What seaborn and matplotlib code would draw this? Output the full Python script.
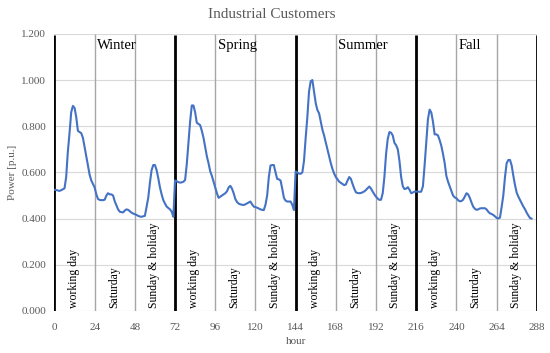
import numpy as np
import pandas as pd
import matplotlib
matplotlib.use("Agg")
import matplotlib.pyplot as plt
import seaborn as sns

# ---- data (hourly power in p.u.) ----
winter = [0.525, 0.524, 0.522, 0.520, 0.523, 0.527, 0.531, 0.580, 0.690, 0.770,
          0.860, 0.888, 0.880, 0.840, 0.780, 0.775, 0.770, 0.750, 0.710, 0.670,
          0.630, 0.590, 0.565, 0.550, 0.535, 0.505, 0.485, 0.481, 0.480, 0.480,
          0.482, 0.500, 0.510, 0.505, 0.505, 0.500, 0.475, 0.458, 0.440, 0.430,
          0.428, 0.427, 0.435, 0.440, 0.438, 0.432, 0.426, 0.422, 0.419, 0.416,
          0.412, 0.409, 0.408, 0.410, 0.412, 0.450, 0.490, 0.555, 0.610, 0.632,
          0.632, 0.610, 0.575, 0.535, 0.505, 0.480, 0.465, 0.452, 0.446, 0.440,
          0.430, 0.408]
spring = [0.565, 0.562, 0.558, 0.556, 0.557, 0.560, 0.567, 0.635, 0.730, 0.820,
          0.890, 0.890, 0.860, 0.815, 0.810, 0.805, 0.780, 0.750, 0.710, 0.670,
          0.640, 0.605, 0.585, 0.560, 0.535, 0.510, 0.490, 0.495, 0.500, 0.505,
          0.510, 0.518, 0.535, 0.542, 0.530, 0.510, 0.485, 0.472, 0.465, 0.462,
          0.460, 0.459, 0.462, 0.466, 0.470, 0.474, 0.462, 0.452, 0.450, 0.447,
          0.444, 0.440, 0.438, 0.437, 0.460, 0.500, 0.580, 0.630, 0.632, 0.632,
          0.600, 0.572, 0.570, 0.565, 0.530, 0.490, 0.478, 0.474, 0.474, 0.474,
          0.460, 0.437]
summer = [0.604, 0.600, 0.595, 0.594, 0.600, 0.650, 0.750, 0.840, 0.950, 0.995,
          1.000, 0.950, 0.900, 0.870, 0.856, 0.820, 0.785, 0.760, 0.730, 0.700,
          0.670, 0.640, 0.615, 0.595, 0.580, 0.570, 0.560, 0.555, 0.550, 0.545,
          0.548, 0.565, 0.580, 0.572, 0.550, 0.530, 0.514, 0.511, 0.510, 0.511,
          0.514, 0.518, 0.524, 0.532, 0.539, 0.530, 0.517, 0.505, 0.495, 0.487,
          0.481, 0.482, 0.510, 0.580, 0.680, 0.745, 0.775, 0.772, 0.760, 0.728,
          0.718, 0.700, 0.650, 0.580, 0.540, 0.528, 0.530, 0.536, 0.525, 0.510,
          0.513, 0.517]
fall = [0.517, 0.517, 0.516, 0.517, 0.540, 0.630, 0.730, 0.830, 0.872, 0.860,
        0.820, 0.765, 0.765, 0.760, 0.740, 0.715, 0.680, 0.640, 0.585, 0.560,
        0.540, 0.520, 0.500, 0.492, 0.488, 0.480, 0.475, 0.476, 0.482, 0.495,
        0.510, 0.505, 0.490, 0.470, 0.452, 0.443, 0.438, 0.440, 0.444, 0.445,
        0.445, 0.445, 0.440, 0.430, 0.423, 0.420, 0.416, 0.410, 0.403, 0.401,
        0.404, 0.450, 0.500, 0.580, 0.640, 0.654, 0.654, 0.630, 0.585, 0.545,
        0.512, 0.495, 0.480, 0.466, 0.452, 0.440, 0.425, 0.413, 0.402, 0.400]

seasons = ["Winter", "Spring", "Summer", "Fall"]
day_types = ["working day", "Saturday", "Sunday & holiday"]
x_ticks = [0, 24, 48, 72, 96, 120, 144, 168, 192, 216, 240, 264, 288]
y_ticks = [0.0, 0.2, 0.4, 0.6, 0.8, 1.0, 1.2]

power = winter + spring + summer + fall
df = pd.DataFrame({"hour": np.arange(len(power)), "power": power})

# ---- style ----
sns.set_style("white")
plt.rcParams["font.family"] = ["Liberation Serif", "DejaVu Serif"]
grey_txt = "#595959"

fig = plt.figure(figsize=(5.5, 3.53), dpi=100)
ax = fig.add_axes([0.099, 0.119, 0.877, 0.785])

# horizontal gridlines
for yv in y_ticks:
    ax.axhline(yv, color="#d9d9d9", lw=0.8, zorder=0)

# day separators
for xv in x_ticks:
    if xv % 72 == 0:
        ax.plot([xv, xv], [0, 1.195], color="black", lw=2.0, zorder=2,
                solid_capstyle="butt")
    else:
        ax.plot([xv, xv], [0, 1.2], color="#a6a6a6", lw=1.0, zorder=1,
                solid_capstyle="butt")

sns.lineplot(data=df, x="hour", y="power", ax=ax, color="#4472c4", lw=1.5,
             zorder=3)

# season labels and day-type labels
for i, s in enumerate(seasons):
    ax.text(72 * i + 25.5, 1.148, s, fontsize=10.5, color="black",
            ha="left", va="center")
    for j, d in enumerate(day_types):
        ax.text(72 * i + 24 * j + 11.5, 0.012, d, rotation=90, fontsize=8.5,
                color="black", ha="center", va="bottom")

ax.set_xlim(0, 288)
ax.set_ylim(0, 1.2)
ax.set_xticks(x_ticks)
ax.set_xticklabels([str(v) for v in x_ticks])
ax.set_yticks(y_ticks)
ax.set_yticklabels([f"{v:.3f}" for v in y_ticks])
ax.tick_params(axis="both", length=0, labelsize=8, colors=grey_txt, pad=6)
ax.tick_params(axis="x", pad=9)
for sp in ax.spines.values():
    sp.set_visible(False)

ax.set_xlabel("hour", fontsize=8, color=grey_txt, labelpad=3)
ax.set_ylabel("Power [p.u.]", fontsize=8, color=grey_txt, labelpad=3)
fig.text(0.495, 0.958, "Industrial Customers", fontsize=11, color=grey_txt,
         ha="center", va="center")

fig.savefig("out.png", dpi=100)
